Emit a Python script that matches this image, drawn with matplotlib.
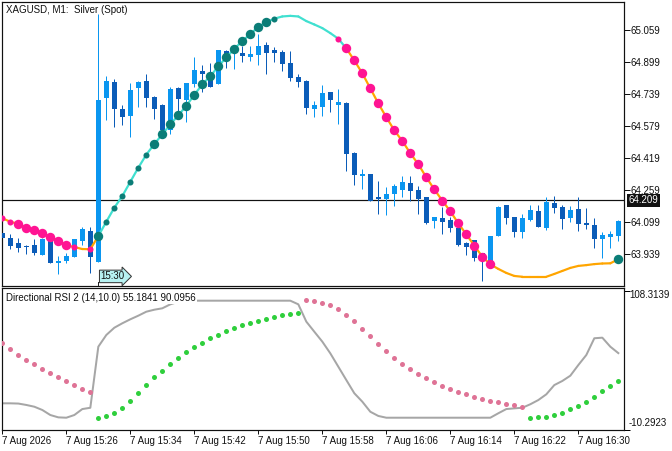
import matplotlib
matplotlib.use('Agg')
import matplotlib.pyplot as plt
import matplotlib.transforms as mtrans
from matplotlib.collections import LineCollection
import numpy as np

plt.rcParams['font.family'] = ['Liberation Sans', 'DejaVu Sans']

# ---------------- data ----------------
title_main = "XAGUSD, M1:  Silver (Spot)"
title_ind = "Directional RSI 2 (14,10.0) 55.1841 90.0956"
time_labels = ["7 Aug 2026", "7 Aug 15:26", "7 Aug 15:34", "7 Aug 15:42", "7 Aug 15:50",
               "7 Aug 15:58", "7 Aug 16:06", "7 Aug 16:14", "7 Aug 16:22", "7 Aug 16:30"]
price_ticks = [65.059, 64.899, 64.739, 64.579, 64.419, 64.259, 64.099, 63.939]
current_price = 64.209
ind_max, ind_min = 108.3139, -10.2923
marker_bar = 12
marker_label = "15:30"

opens = [64.044, 64.022, 63.994, 63.983, 63.986, 63.938, 64.006, 63.898, 63.908, 63.928,
         64.007, 64.057, 63.903, 64.719, 64.797, 64.665, 64.628, 64.769, 64.802, 64.721,
         64.683, 64.559, 64.768, 64.708, 64.788, 64.852, 64.844, 64.789, 64.950, 64.940,
         64.942, 64.923, 64.932, 64.982, 64.957, 64.947, 64.892, 64.822, 64.802, 64.665,
         64.674, 64.748, 64.684, 64.693, 64.444, 64.331, 64.339, 64.224, 64.215, 64.241,
         64.260, 64.295, 64.260, 64.225, 64.105, 64.120, 64.112, 64.071, 63.996, 64.011,
         63.945, 63.908, 64.032, 64.184, 64.125, 64.052, 64.110, 64.155, 64.071, 64.195,
         64.175, 64.120, 64.165, 64.096, 64.086, 64.016, 64.026, 64.031]
highs = [64.051, 64.041, 64.019, 63.986, 64.014, 64.019, 64.007, 63.931, 63.945, 64.018,
         64.077, 64.077, 65.136, 64.829, 64.812, 64.683, 64.791, 64.804, 64.837, 64.728,
         64.686, 64.771, 64.771, 64.794, 64.922, 64.882, 64.894, 64.958, 64.957, 64.974,
         64.977, 64.977, 65.036, 64.997, 64.972, 64.955, 64.952, 64.837, 64.806, 64.704,
         64.783, 64.749, 64.763, 64.698, 64.449, 64.364, 64.340, 64.305, 64.275, 64.291,
         64.331, 64.330, 64.281, 64.226, 64.126, 64.175, 64.125, 64.072, 63.999, 64.012,
         63.946, 64.032, 64.180, 64.185, 64.126, 64.140, 64.185, 64.185, 64.225, 64.230,
         64.185, 64.180, 64.225, 64.170, 64.120, 64.051, 64.056, 64.110]
lows = [64.011, 63.965, 63.950, 63.940, 63.935, 63.936, 63.897, 63.842, 63.895, 63.926,
        63.985, 63.848, 63.903, 64.608, 64.575, 64.583, 64.525, 64.674, 64.674, 64.615,
        64.550, 64.539, 64.642, 64.600, 64.771, 64.749, 64.772, 64.788, 64.869, 64.862,
        64.897, 64.903, 64.884, 64.839, 64.897, 64.852, 64.804, 64.774, 64.640, 64.625,
        64.630, 64.650, 64.590, 64.356, 64.286, 64.266, 64.206, 64.142, 64.137, 64.182,
        64.226, 64.207, 64.142, 64.092, 64.072, 64.042, 64.052, 63.981, 63.936, 63.908,
        63.808, 63.907, 64.032, 64.092, 64.027, 64.021, 64.105, 64.076, 64.061, 64.147,
        64.066, 64.100, 64.056, 64.066, 63.971, 63.921, 63.971, 64.006]
closes = [64.019, 63.983, 63.971, 63.975, 63.948, 64.017, 63.898, 63.908, 63.931, 64.016,
          64.064, 63.928, 64.708, 64.802, 64.662, 64.625, 64.758, 64.799, 64.719, 64.665,
          64.559, 64.763, 64.714, 64.792, 64.857, 64.837, 64.774, 64.957, 64.903, 64.973,
          64.928, 64.937, 64.977, 64.943, 64.943, 64.889, 64.819, 64.799, 64.670, 64.683,
          64.743, 64.709, 64.698, 64.441, 64.336, 64.339, 64.207, 64.214, 64.240, 64.280,
          64.300, 64.255, 64.215, 64.096, 64.125, 64.100, 64.071, 63.986, 63.978, 63.923,
          63.908, 64.031, 64.175, 64.122, 64.052, 64.120, 64.160, 64.077, 64.200, 64.170,
          64.115, 64.160, 64.091, 64.087, 64.016, 64.036, 64.041, 64.105]

# trend line drawn on price chart
trend_line = [64.119, 64.102, 64.091, 64.072, 64.059, 64.047, 64.024, 64.007, 63.985, 63.976,
              63.966, 63.965, 64.031, 64.102, 64.172, 64.230, 64.301, 64.371, 64.436, 64.489,
              64.537, 64.587, 64.632, 64.679, 64.734, 64.786, 64.826, 64.876, 64.920, 64.963,
              65.002, 65.036, 65.073, 65.095, 65.113, 65.124, 65.127, 65.124, 65.101, 65.084,
              65.066, 65.041, 65.013, 64.965, 64.905, 64.841, 64.766, 64.691, 64.622, 64.557,
              64.504, 64.443, 64.388, 64.323, 64.263, 64.207, 64.154, 64.094, 64.039, 63.983,
              63.928, 63.890, 63.867, 63.847, 63.832, 63.828, 63.828, 63.828, 63.828, 63.842,
              63.857, 63.872, 63.882, 63.886, 63.891, 63.894, 63.895, 63.915]
# trend direction of each segment start (1 up, 0 down)
trend_up = [0] * 12 + [1] * 31 + [0] * 35
# signal dots: +2 strong up, +1 weak up, -1 weak down, -2 strong down, 0 none
signal = ([-1, -1] + [-2] * 7 + [-1, 0, -1] + [2] + [1] * 6 + [2] * 15 + [1]
          + [0] * 7 + [-1] + [-2] * 19 + [0] * 15 + [2])

# indicator window
rsi_line = ([12.3, 12.3, 12.1, 10.9, 9.4, 6.6, 2.3, 0.3, 0.0, 2.3, 7.4, 8.5, 60.7, 70.7,
             76.9, 80.7, 84.1, 87.2, 90.6, 92.3, 93.5, 96.9, 99.1] + [100.0] * 14
            + [96.9, 82.1, 73.5, 65.0, 55.0, 43.6, 32.2, 20.9, 13.7, 5.1, 1.5] + [0.0] * 14
            + [3.8, 7.4, 8.0, 8.5, 11.5, 15.1, 20.0, 27.9, 31.4, 35.9, 45.0, 53.6, 67.9,
               68.4, 60.7, 55.2])
rsi_dots = [63.6, 58.7, 53.3, 49.1, 45.6, 41.4, 37.9, 34.5, 31.1, 27.7, 24.8, 22.2,
            -0.5, 1.2, 3.8, 8.0, 14.0, 20.9, 27.7, 34.5, 39.7, 45.6, 50.8, 55.9, 60.2, 63.6,
            67.9, 70.4, 73.8, 76.4, 79.0, 80.9, 82.6, 84.4, 85.8, 87.5, 88.6, 89.5,
            100.3, 99.5, 98.3, 96.3, 92.9, 87.5, 82.4, 75.6, 69.6, 62.7, 56.8, 50.8, 45.6,
            41.4, 37.1, 33.7, 30.3, 26.8, 24.3, 21.7, 20.0, 17.4, 15.7, 14.0, 13.2, 11.5,
            10.6, 8.9,
            -0.5, 0.3, 0.3, 2.1, 3.8, 7.2, 9.7, 13.2, 17.4, 22.6, 26.8, 31.1]
dots_dir = [-1] * 12 + [1] * 26 + [-1] * 28 + [1] * 12

# ---------------- figure ----------------
W, H = 672, 451
fig = plt.figure(figsize=(W / 100, H / 100), dpi=100)
PX = 0.72  # one pixel in points
FS = 7.0


def fx(px):
    return px / W


def fy(py):
    return 1 - py / H


ax = fig.add_axes([fx(2), fy(286), fx(624) - fx(2), fy(2) - fy(286)])
ax2 = fig.add_axes([fx(2), fy(430), fx(624) - fx(2), fy(288) - fy(430)])

n = len(opens)
x = np.arange(n)
o = np.array(opens); c = np.array(closes); hi = np.array(highs); lo = np.array(lows)
bull = c >= o
col_bull, col_bear = '#0a96f0', '#0b5cb8'
cols = np.where(bull, col_bull, col_bear)

ax.axhline(current_price, color='#111111', lw=PX * 1.2, zorder=1)
ax.vlines(x, lo, hi, colors=cols, lw=PX, zorder=2)
bottoms = np.minimum(o, c)
heights = np.maximum(np.abs(c - o), 0.005)
ax.bar(x, heights, bottom=bottoms, width=0.62, color=cols, linewidth=0, zorder=3)

tl = np.array(trend_line)
segs = [[(i, tl[i]), (i + 1, tl[i + 1])] for i in range(n - 1)]
seg_cols = ['#40e0d0' if trend_up[i] else '#ffa500' for i in range(n - 1)]
ax.add_collection(LineCollection(segs, colors=seg_cols, linewidths=PX * 2.2, zorder=4,
                                 capstyle='round'))
sig = np.array(signal)
size_map = {2: 46, 1: 19, -1: 19, -2: 46}
for s_val, colr in [(2, '#0b7d77'), (1, '#0b7d77'), (-1, '#ff1493'), (-2, '#ff1493')]:
    m = sig == s_val
    ax.scatter(x[m], tl[m], s=size_map[s_val], color=colr, linewidths=0, zorder=5)

ax.set_xlim(-0.04, 77.71)
ax.set_ylim(63.782, 65.196)
ax.set_xticks([])
ax.yaxis.tick_right()
ax.set_yticks(price_ticks)
ax.set_yticklabels([f"{p:.3f}" for p in price_ticks])
ax.tick_params(axis='y', direction='out', length=4, width=PX, pad=0.6, labelsize=FS,
               colors='#111111')

# current price tag
ax.text(1.0 + 4.5 / 622, current_price, f"{current_price:.3f}",
        transform=mtrans.blended_transform_factory(ax.transAxes, ax.transData),
        ha='left', va='center', color='white', fontsize=FS, zorder=10, clip_on=False,
        bbox=dict(boxstyle='square,pad=0.15', fc='#111111', ec='none'))

# time marker
trans_m = mtrans.blended_transform_factory(ax.transData, ax.transAxes)
ax.plot([marker_bar, marker_bar], [0, 4 / 284], transform=trans_m, color='#222222',
        lw=PX, zorder=6)
ax.text(marker_bar + 0.3, 9.6 / 284, marker_label, transform=trans_m, ha='left',
        va='center', fontsize=FS, color='#111111', zorder=7,
        bbox=dict(boxstyle='rarrow,pad=0.13', fc='#b7f2f2', ec='#333333', lw=PX))

fig.text(fx(6), fy(10), title_main, ha='left', va='center', fontsize=FS, color='#111111')

# ---------------- indicator window ----------------
ax2.plot(x, rsi_line, color='#a6a6a6', lw=PX * 2, zorder=2)
rd = np.array(rsi_dots)
dd = np.array(dots_dir)
ax2.scatter(x[dd < 0], rd[dd < 0], s=13, color='#df7396', linewidths=0, zorder=3)
ax2.scatter(x[dd > 0], rd[dd > 0], s=13, color='#2fcf3c', linewidths=0, zorder=3)
ax2.set_xlim(-0.04, 77.71)
ax2.set_ylim(-10.5, 110.85)
ax2.yaxis.tick_right()
ax2.set_yticks([ind_min, ind_max])
ax2.set_yticklabels(['', ''])
ax2.tick_params(axis='y', direction='out', length=4, width=PX)
ax2.text(1.0 + 5 / 622, 1.0 - 2 / 142, f"{ind_max:.4f}", transform=ax2.transAxes,
         ha='left', va='top', fontsize=FS, color='#111111')
ax2.text(1.0 + 5 / 622, 2 / 142, f"{ind_min:.4f}", transform=ax2.transAxes,
         ha='left', va='bottom', fontsize=FS, color='#111111')
ax2.set_xticks(np.arange(0, n, 8))
ax2.set_xticklabels(time_labels, ha='left')
ax2.tick_params(axis='x', direction='out', length=3, width=PX, pad=1.5, labelsize=FS,
                colors='#111111')
fig.text(fx(6), fy(298.3), title_ind, ha='left', va='center', fontsize=FS,
         color='#111111', zorder=10,
         bbox=dict(boxstyle='square,pad=0.1', fc='white', ec='none'))

for a in (ax, ax2):
    for sp in a.spines.values():
        sp.set_linewidth(PX * 1.2)
        sp.set_color('#111111')

fig.savefig('out.png', dpi=100)
